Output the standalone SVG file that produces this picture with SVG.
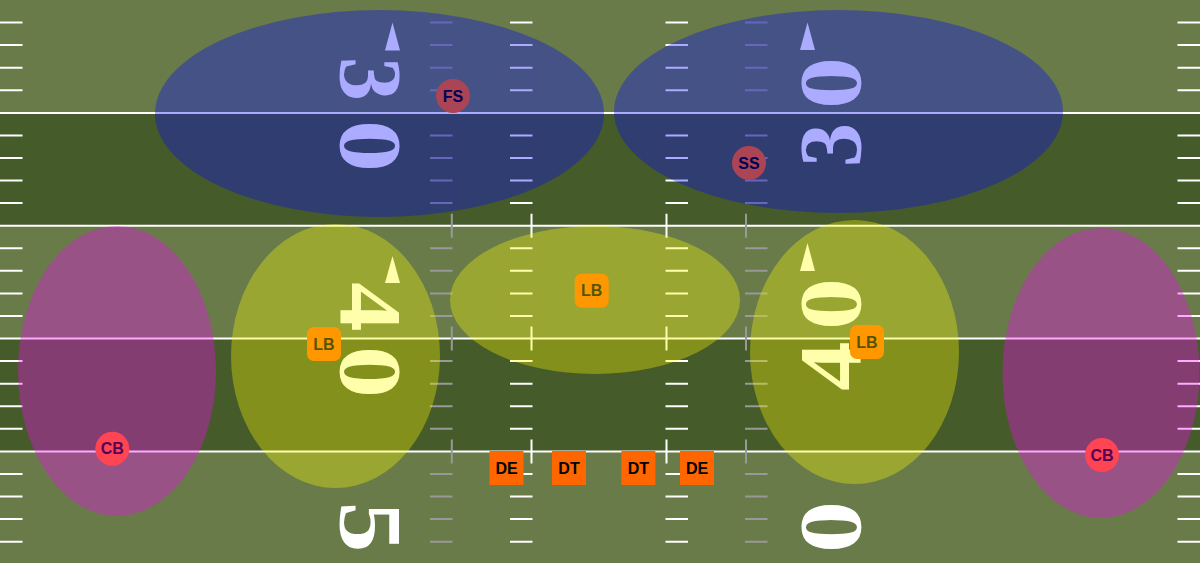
<svg xmlns="http://www.w3.org/2000/svg" xmlns:xlink="http://www.w3.org/1999/xlink" width="1200" height="563" viewBox="0 0 1200 563">
  <style>
    .yard { stroke:#ffffff; stroke-width:2; fill:none; }
    .tickw { stroke:#ffffff; stroke-width:2; fill:none; }
    .tickg { stroke:#999999; stroke-width:2; fill:none; }
    .num { font-family:"Liberation Serif","Times New Roman",serif; font-weight:bold; font-size:88px; fill:#ffffff; text-anchor:middle; }
    .arrow { fill:#ffffff; }
    .player { fill:#ff6600; }
    .lbl { font-family:"Liberation Sans",Arial,sans-serif; font-weight:bold; font-size:16px; fill:#000000; text-anchor:middle; }
    .zblue { fill:#0000ff; fill-opacity:0.33; }
    .zpink { fill:#ff00ff; fill-opacity:0.33; }
    .zyellow { fill:#ffff00; fill-opacity:0.33; }
  </style>
  <defs>
    <path id="hashes" stroke-width="2" fill="none" d="M0 22.6h22.5M0 45.1h22.5M0 67.7h22.5M0 90.3h22.5M0 135.4h22.5M0 158h22.5M0 180.6h22.5M0 203.1h22.5M0 248.3h22.5M0 270.8h22.5M0 293.4h22.5M0 316h22.5M0 361.1h22.5M0 383.7h22.5M0 406.3h22.5M0 428.8h22.5M0 474h22.5M0 496.5h22.5M0 519.1h22.5M0 541.7h22.5"/>
  </defs>

  <g id="field">
    <rect x="0" y="0" width="1200" height="563" fill="#687b49"/>
    <rect x="0" y="112.9" width="1200" height="112.8" fill="#465b2a"/>
    <rect x="0" y="338.6" width="1200" height="112.8" fill="#465b2a"/>
    <path class="yard" d="M0 112.9H1200M0 225.7H1200M0 338.6H1200M0 451.4H1200"/>
    <use href="#hashes" x="0" stroke="#ffffff"/>
    <use href="#hashes" x="1177.5" stroke="#ffffff"/>
    <use href="#hashes" x="510" stroke="#ffffff"/>
    <use href="#hashes" x="665.5" stroke="#ffffff"/>
    <use href="#hashes" x="430" stroke="#999999"/>
    <use href="#hashes" x="745" stroke="#999999"/>
    <path class="tickw" d="M531.5 213.7V237.7M531.5 326.6V350.6M531.5 439.4V463.4M666.5 213.7V237.7M666.5 326.6V350.6M666.5 439.4V463.4"/>
    <path class="tickg" d="M451.8 213.7V237.7M451.8 326.6V350.6M451.8 439.4V463.4M746 213.7V237.7M746 326.6V350.6M746 439.4V463.4"/>
  </g>

  <g id="numbers">
    <text class="num" transform="translate(341,79) rotate(90)">3</text>
    <text class="num" transform="translate(341,146) rotate(90) scale(1.18,1)">0</text>
    <text class="num" transform="translate(341,307) rotate(90) scale(1.12,1)">4</text>
    <text class="num" transform="translate(341,372) rotate(90) scale(1.18,1)">0</text>
    <text class="num" transform="translate(341,527) rotate(90) scale(1.15,1)">5</text>
    <text class="num" transform="translate(860,83) rotate(-90) scale(1.18,1)">0</text>
    <text class="num" transform="translate(860,145) rotate(-90)">3</text>
    <text class="num" transform="translate(860,304) rotate(-90) scale(1.18,1)">0</text>
    <text class="num" transform="translate(860,366) rotate(-90) scale(1.12,1)">4</text>
    <text class="num" transform="translate(860,527) rotate(-90) scale(1.18,1)">0</text>
    <polygon class="arrow" points="392.5,22.5 385,50.5 400,50.5"/>
    <polygon class="arrow" points="392.5,256 385,283 400,283"/>
    <polygon class="arrow" points="807.5,22.5 800,50 815,50"/>
    <polygon class="arrow" points="807.5,243 800,271 815,271"/>
  </g>

  <g id="connectors"/>

  <g id="player-FS">
    <circle class="player" cx="453" cy="96" r="17"/>
    <text class="lbl" x="453" y="101.7">FS</text>
  </g>
  <g id="player-SS">
    <circle class="player" cx="749" cy="163" r="17"/>
    <text class="lbl" x="749" y="168.7">SS</text>
  </g>
  <g id="player-CB-left">
    <circle class="player" cx="112.3" cy="448.7" r="17"/>
    <text class="lbl" x="112.3" y="454.4">CB</text>
  </g>
  <g id="player-CB-right">
    <circle class="player" cx="1102" cy="455" r="17"/>
    <text class="lbl" x="1102" y="460.7">CB</text>
  </g>
  <g id="player-LB-left">
    <rect class="player" x="307" y="327" width="34" height="34" rx="7"/>
    <text class="lbl" x="324" y="349.7">LB</text>
  </g>
  <g id="player-LB-middle">
    <rect class="player" x="574.7" y="273.7" width="34" height="34" rx="7"/>
    <text class="lbl" x="591.7" y="296.4">LB</text>
  </g>
  <g id="player-LB-right">
    <rect class="player" x="850" y="325" width="34" height="34" rx="7"/>
    <text class="lbl" x="867" y="347.7">LB</text>
  </g>
  <g id="player-DE-left">
    <rect class="player" x="489.5" y="451" width="34" height="34"/>
    <text class="lbl" x="506.5" y="473.7">DE</text>
  </g>
  <g id="player-DT-left">
    <rect class="player" x="552" y="451" width="34" height="34"/>
    <text class="lbl" x="569" y="473.7">DT</text>
  </g>
  <g id="player-DT-right">
    <rect class="player" x="621.4" y="451" width="34" height="34"/>
    <text class="lbl" x="638.4" y="473.7">DT</text>
  </g>
  <g id="player-DE-right">
    <rect class="player" x="680" y="451" width="34" height="34"/>
    <text class="lbl" x="697" y="473.7">DE</text>
  </g>

  <g id="zone-deep-left"><ellipse class="zblue" cx="379.5" cy="113.5" rx="224.5" ry="103.5"/></g>
  <g id="zone-deep-right"><ellipse class="zblue" cx="838.5" cy="111.5" rx="224.5" ry="101.5"/></g>
  <g id="zone-flat-left"><ellipse class="zpink" cx="117" cy="371" rx="99" ry="145"/></g>
  <g id="zone-flat-right"><ellipse class="zpink" cx="1101" cy="373" rx="98.5" ry="145"/></g>
  <g id="zone-hook-left"><ellipse class="zyellow" cx="335.5" cy="356" rx="104.5" ry="132"/></g>
  <g id="zone-middle"><ellipse class="zyellow" cx="595" cy="300" rx="145" ry="74"/></g>
  <g id="zone-hook-right"><ellipse class="zyellow" cx="854.5" cy="352" rx="104.5" ry="132"/></g>
</svg>
